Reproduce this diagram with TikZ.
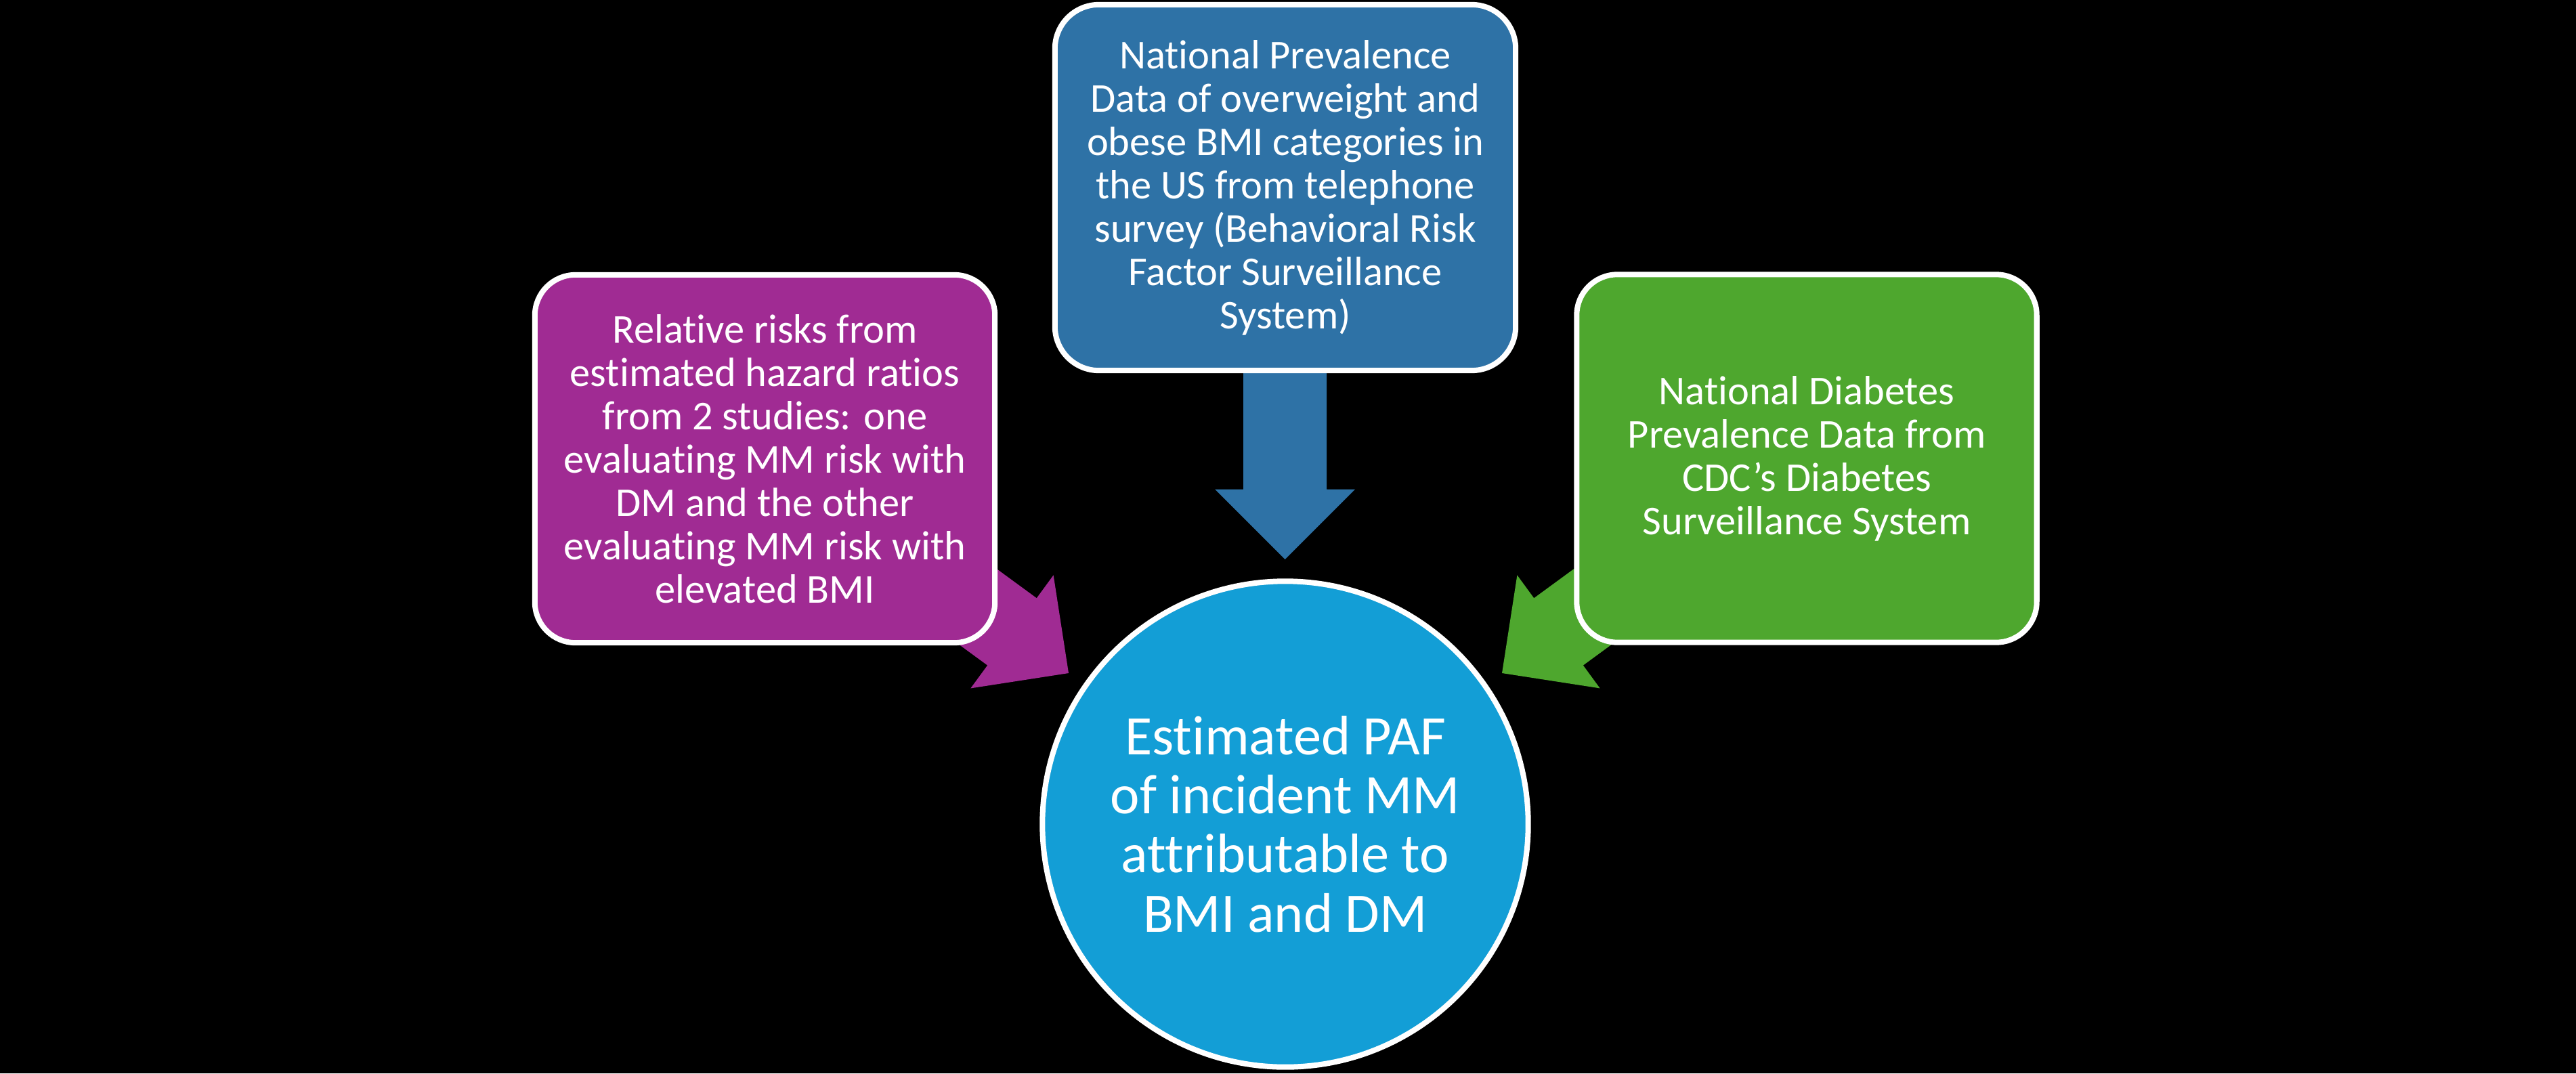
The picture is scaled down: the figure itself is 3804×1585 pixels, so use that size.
\documentclass[tikz,border=0pt]{standalone}
\usepackage{fontspec}
\setmainfont{Carlito}[Ligatures=NoCommon]
\definecolor{purp}{HTML}{A02B93}
\definecolor{grn}{HTML}{4EA72E}
\definecolor{topblue}{HTML}{2E72A6}
\definecolor{cblue}{HTML}{139ED6}
\newcommand{\blockarrow}[3]{%
  \fill[#1, shift={(#2)}, rotate=#3]
    (0,0) -- (-103.5,103.5) -- (-103.5,61.5) -- (-330,61.5)
    -- (-330,-61.5) -- (-103.5,-61.5) -- (-103.5,-103.5) -- cycle;}
\begin{document}
\begin{tikzpicture}[x=0.01cm,y=-0.01cm,
  boxstyle/.style={draw=white, line width=0.08cm, rounded corners=0.6cm,
    inner sep=0pt, align=center, text=white,
    font=\fontsize{17.2}{18.2}\selectfont,
    minimum width=6.79cm, minimum height=5.43cm},
  circstyle/.style={circle, draw=white, line width=0.08cm, fill=cblue,
    inner sep=0pt, align=center, text=white,
    font=\fontsize{23.4}{24.8}\selectfont, minimum size=7.17cm}]
\fill[black] (0,0) rectangle (3804,1585);
\useasboundingbox (0,0) rectangle (3804,1585);

\coordinate (tipT) at (1897.5,826);
\coordinate (tipL) at (1578,994);
\coordinate (tipR) at (2218,994);

\blockarrow{topblue}{tipT}{-90}
\blockarrow{purp}{tipL}{-36.2}
\blockarrow{grn}{tipR}{-143.8}

\node[boxstyle, fill=purp] (rr) at (1129.5,677.5)
  {Relative risks from\\estimated hazard ratios\\from 2 studies: one\\evaluating MM risk with\\DM and the other\\evaluating MM risk with\\elevated BMI};
\node[boxstyle, fill=grn] (dm) at (2668,677)
  {National Diabetes\\Prevalence Data from\\CDC’s Diabetes\\Surveillance System};
\node[boxstyle, fill=topblue, rounded corners=0.65cm, minimum width=6.80cm, minimum height=5.40cm] (bmi) at (1898,277)
  {National Prevalence\\Data of overweight and\\obese BMI categories in\\the US from telephone\\survey (Behavioral Risk\\Factor Surveillance\\System)};
\node[circstyle] (paf) at (1898,1217)
  {Estimated PAF\\of incident MM\\attributable to\\BMI and DM};
\end{tikzpicture}
\end{document}
